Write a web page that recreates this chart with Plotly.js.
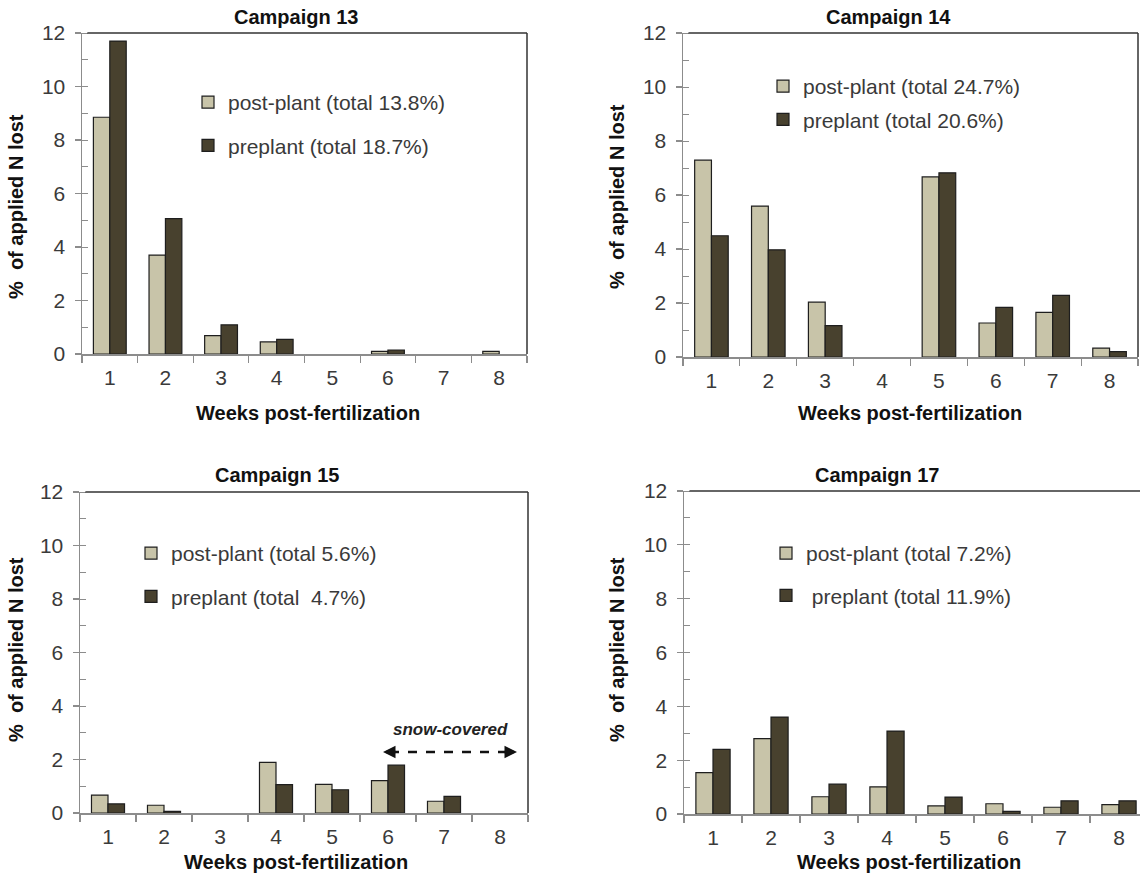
<!DOCTYPE html>
<html>
<head>
<meta charset="utf-8">
<script src="https://cdn.plot.ly/plotly-3.0.1.min.js"></script>
<style>html,body{margin:0;padding:0;background:#fff;}#chart{width:1140px;height:884px;}</style>
</head>
<body>
<div id="chart"></div>
<script>
// ---- data ----
const weeks = ['1', '2', '3', '4', '5', '6', '7', '8'];
const campaigns = ['Campaign 13', 'Campaign 14', 'Campaign 15', 'Campaign 17'];
const post13 = [8.85, 3.70, 0.69, 0.45, 0, 0.10, 0, 0.10];
const pre13  = [11.70, 5.06, 1.09, 0.55, 0, 0.15, 0, 0];
const post14 = [7.29, 5.59, 2.03, 0, 6.67, 1.26, 1.65, 0.33];
const pre14  = [4.49, 3.97, 1.16, 0, 6.82, 1.84, 2.28, 0.20];
const post15 = [0.67, 0.29, 0, 1.89, 1.07, 1.21, 0.44, 0];
const pre15  = [0.34, 0.06, 0, 1.06, 0.87, 1.79, 0.62, 0];
const post17 = [1.54, 2.80, 0.64, 1.01, 0.30, 0.38, 0.25, 0.35];
const pre17  = [2.40, 3.60, 1.11, 3.08, 0.63, 0.10, 0.49, 0.49];
const postNames = ['post-plant (total 13.8%)', 'post-plant (total 24.7%)', 'post-plant (total 5.6%)', 'post-plant (total 7.2%)'];
const preNames = ['preplant (total 18.7%)', 'preplant (total 20.6%)', 'preplant (total \u00a04.7%)', '\u00a0preplant (total 11.9%)'];
const xTitle = 'Weeks post-fertilization';
const yTitle = '%\u00a0 of applied N lost';
const snowLabel = 'snow-covered';

// ---- style ----
const W = 1140, H = 884;
const FONT = 'Liberation Sans, Arial, Helvetica, sans-serif';
const LIGHT = '#c8c4a9', DARK = '#48412e', EDGE = '#1e1e1e';
const px = v => v / W, py = v => 1 - v / H;
const noZero = arr => arr.map(v => (v === 0 ? null : v)); // empty weeks draw no bar

const posts = [post13, post14, post15, post17];
const pres = [pre13, pre14, pre15, pre17];
const axSuffix = ['', '2', '3', '4'];
const legKeys = ['legend', 'legend2', 'legend3', 'legend4'];

// panel geometry in pixels: [left, right, top, bottom]
const geo = [[82, 527, 33, 354], [683, 1138, 33, 357], [80, 528, 492, 813], [684, 1140, 491, 814]];
const catPx4 = 58;

const data = [];
for (let i = 0; i < 4; i++) {
  const s = axSuffix[i];
  data.push({type: 'bar', x: weeks, y: noZero(posts[i]), name: postNames[i], xaxis: 'x' + s, yaxis: 'y' + s,
    legend: legKeys[i], legendgroup: 'a' + i,
    marker: {color: LIGHT, line: {color: EDGE, width: 1.2}}, hoverinfo: 'x+y'});
  data.push({type: 'bar', x: weeks, y: noZero(pres[i]), name: preNames[i], xaxis: 'x' + s, yaxis: 'y' + s,
    legend: legKeys[i], legendgroup: 'b' + i,
    marker: {color: DARK, line: {color: EDGE, width: 1.2}}, hoverinfo: 'x+y'});
}

const layout = {
  width: W, height: H, margin: {l: 0, r: 0, t: 0, b: 0},
  paper_bgcolor: '#fff', plot_bgcolor: '#fff',
  barmode: 'group', bargap: 0.41, bargroupgap: 0,
  font: {family: FONT, size: 21, color: '#3a3a3a'},
  showlegend: true, shapes: [], annotations: []
};

// legend: [text start x, top y, gap between rows]
const legendText = [[228, 82, 13], [803, 66, 3], [171, 533, 13], [806, 533, 12]];
for (let i = 0; i < 4; i++) {
  const s = axSuffix[i];
  const g = geo[i];
  const xr = i === 3 ? [-0.5, -0.5 + (g[1] - g[0]) / catPx4] : [-0.5, 7.5];
  layout['xaxis' + s] = {
    domain: [px(g[0]), px(g[1])], anchor: 'y' + s, type: 'category', range: xr,
    showline: true, linecolor: '#8c8c8c', linewidth: 1.5,
    ticks: 'outside', tickson: 'boundaries', ticklen: 7, tickcolor: '#8c8c8c', tickwidth: 1.2,
    showgrid: false, zeroline: false, fixedrange: true,
    tickfont: {family: FONT, size: 21, color: '#3a3a3a'}, ticklabelstandoff: 4
  };
  layout['yaxis' + s] = {
    domain: [py(g[3]), py(g[2])], anchor: 'x' + s, range: [0, 12], dtick: 2,
    showline: true, linecolor: '#8c8c8c', linewidth: 1.5,
    ticks: 'outside', ticklen: 6, tickcolor: '#8c8c8c', tickwidth: 1.2,
    minor: {dtick: 1, ticks: 'inside', ticklen: 6, tickcolor: '#8c8c8c', tickwidth: 1},
    showgrid: false, zeroline: false, fixedrange: true,
    tickfont: {family: FONT, size: 21, color: '#3a3a3a'}, ticklabelstandoff: 5
  };
  // plot-area border (top and right)
  layout.shapes.push({type: 'line', xref: 'x' + s + ' domain', yref: 'y' + s + ' domain',
    x0: 0.012, x1: 1, y0: 1, y1: 1, line: {color: '#333', width: 1.5}});
  if (i !== 3) {
    layout.shapes.push({type: 'line', xref: 'x' + s + ' domain', yref: 'y' + s + ' domain',
      x0: 1, x1: 1, y0: 0, y1: 1, line: {color: '#333', width: 1.5}});
  }
  const L = legendText[i];
  layout[legKeys[i]] = {
    x: px(L[0] - 40), y: py(L[1]), xanchor: 'left', yanchor: 'top',
    bgcolor: 'rgba(0,0,0,0)', borderwidth: 0,
    font: {family: FONT, size: 21, color: '#3a3a3a'},
    traceorder: 'grouped', tracegroupgap: L[2]
  };
}

const titlePos = [[296, 17], [888, 17], [277, 475], [877, 475]];
const xtPos = [[308, 413], [910, 413], [296, 862], [909, 862]];
const ytPos = [[16, 207], [617, 197], [16, 650], [617, 650]];
const bold = {family: FONT, size: 20, color: '#111'};
for (let i = 0; i < 4; i++) {
  layout.annotations.push({xref: 'paper', yref: 'paper', x: px(titlePos[i][0]), y: py(titlePos[i][1]),
    text: '<b>' + campaigns[i] + '</b>', showarrow: false, xanchor: 'center', yanchor: 'middle', font: bold});
  layout.annotations.push({xref: 'paper', yref: 'paper', x: px(xtPos[i][0]), y: py(xtPos[i][1]),
    text: '<b>' + xTitle + '</b>', showarrow: false, xanchor: 'center', yanchor: 'middle', font: bold});
  layout.annotations.push({xref: 'paper', yref: 'paper', x: px(ytPos[i][0]), y: py(ytPos[i][1]),
    text: '<b>' + yTitle + '</b>', showarrow: false, xanchor: 'center', yanchor: 'middle', textangle: -90, font: bold});
}

// snow-covered note (Campaign 15)
layout.annotations.push({xref: 'paper', yref: 'paper', x: px(450), y: py(729),
  text: '<b><i>' + snowLabel + '</i></b>', showarrow: false, xanchor: 'center', yanchor: 'middle',
  font: {family: FONT, size: 17, color: '#222'}});
layout.shapes.push({type: 'line', xref: 'paper', yref: 'paper', x0: px(390), x1: px(510), y0: py(752), y1: py(752),
  line: {color: '#111', width: 2.5, dash: 'dash'}});
layout.annotations.push({xref: 'paper', yref: 'paper', x: px(517), y: py(752), ax: -14, ay: 0, text: '',
  showarrow: true, arrowhead: 2, arrowsize: 1, arrowwidth: 2.5, arrowcolor: '#111'});
layout.annotations.push({xref: 'paper', yref: 'paper', x: px(383), y: py(752), ax: 14, ay: 0, text: '',
  showarrow: true, arrowhead: 2, arrowsize: 1, arrowwidth: 2.5, arrowcolor: '#111'});

Plotly.newPlot('chart', data, layout, {displayModeBar: false, staticPlot: true});
</script>
</body>
</html>
